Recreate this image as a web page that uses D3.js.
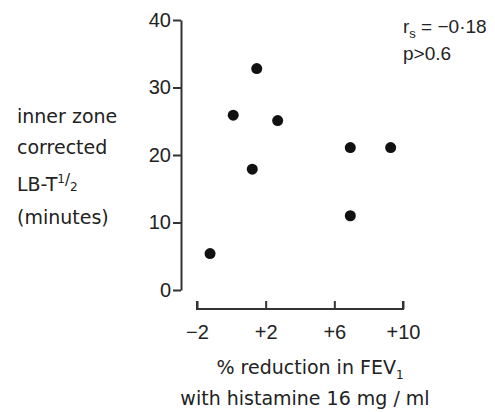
<!DOCTYPE html>
<html>
  <head>
    <meta charset="utf-8">
    <title>LB-T1/2 vs FEV1 reduction</title>
    <script src="https://d3js.org/d3.v7.min.js"></script>
    <style>
      body { margin: 0; background: #fff; }
      svg { font-family: "DejaVu Sans", sans-serif; fill: #222; }
      .axis path, .axis line { stroke: #333; stroke-width: 2; }
      .axis text { font-size: 20px; fill: #222; }
    </style>
  </head>
  <body>
    <svg id="chart" width="495" height="412"></svg>
    <script>
      // data
      var fevReduction = [-1.24, 0.11, 1.48, 1.22, 2.7, 6.93, 9.28, 6.93];
      var halfTime = [5.4, 25.9, 32.8, 17.9, 25.1, 21.1, 21.1, 11.0];
      var xTicks = [-2, 2, 6, 10];
      var xTickLabels = ["\u22122", "+2", "+6", "+10"];
      var yTicks = [0, 10, 20, 30, 40];
      var yLabel = ["inner zone", "corrected", "LB-T", "(minutes)"];
      var xLabel = ["% reduction in FEV", "with histamine 16 mg / ml"];

      var svg = d3.select("#chart");

      var x = d3.scaleLinear()
        .domain([-2, 10])
        .range([197, 403]);
      var y = d3.scaleLinear()
        .domain([0, 40])
        .range([290, 20]);

      // axes
      var yAxis = d3.axisLeft(y)
        .tickValues(yTicks)
        .tickSize(8)
        .tickSizeOuter(0)
        .tickPadding(2);
      svg.append("g")
        .attr("class", "axis")
        .attr("transform", "translate(181,0)")
        .call(yAxis);

      var xAxis = d3.axisTop(x)
        .tickValues(xTicks)
        .tickSize(8)
        .tickSizeOuter(0)
        .tickFormat(function(d, i) { return xTickLabels[i]; });
      var xg = svg.append("g")
        .attr("class", "axis")
        .attr("transform", "translate(0,309)")
        .call(xAxis);
      xg.select(".domain")
        .attr("d", "M" + x(-2) + ",-8V0H" + x(10) + "V-8");
      xg.selectAll(".tick text")
        .attr("y", 30);

      // points
      svg.selectAll(".dot")
          .data(fevReduction)
        .enter().append("circle")
          .attr("class", "dot")
          .attr("cx", function(d) { return x(d); })
          .attr("cy", function(d, i) { return y(halfTime[i]); })
          .attr("r", 5.5)
          .style("fill", "#111");

      // y label
      var yl = svg.append("g")
        .style("font-size", "19px");
      yl.selectAll("text")
          .data(yLabel)
        .enter().append("text")
          .attr("x", 17)
          .attr("y", function(d, i) { return [123, 154, 191, 224][i]; })
          .text(function(d) { return d; });
      var lb = yl.select("text:nth-child(3)");
      lb.append("tspan")
        .attr("dy", -8)
        .style("font-size", "12px")
        .text("1");
      lb.append("tspan")
        .attr("dy", 2)
        .style("font-size", "15px")
        .text("/");
      lb.append("tspan")
        .attr("dy", 6)
        .style("font-size", "12px")
        .text("2");

      // x label
      var xl = svg.append("g")
        .style("font-size", "19px")
        .attr("text-anchor", "middle");
      var t1 = xl.append("text")
        .attr("x", 310)
        .attr("y", 374)
        .text(xLabel[0]);
      t1.append("tspan")
        .attr("dy", 5)
        .style("font-size", "12px")
        .text("1");
      xl.append("text")
        .attr("x", 305)
        .attr("y", 405)
        .text(xLabel[1]);

      // stats note
      var note = svg.append("g")
        .style("font-family", "'Liberation Sans', Arial, sans-serif")
        .style("font-size", "19px");
      var r = note.append("text")
        .attr("x", 403)
        .attr("y", 33)
        .text("r");
      r.append("tspan")
        .attr("dy", 5)
        .style("font-size", "13px")
        .text("s");
      r.append("tspan")
        .attr("dy", -5)
        .text(" = \u22120\u00b718");
      note.append("text")
        .attr("x", 403)
        .attr("y", 60)
        .text("p>0.6");
    </script>
  </body>
</html>
